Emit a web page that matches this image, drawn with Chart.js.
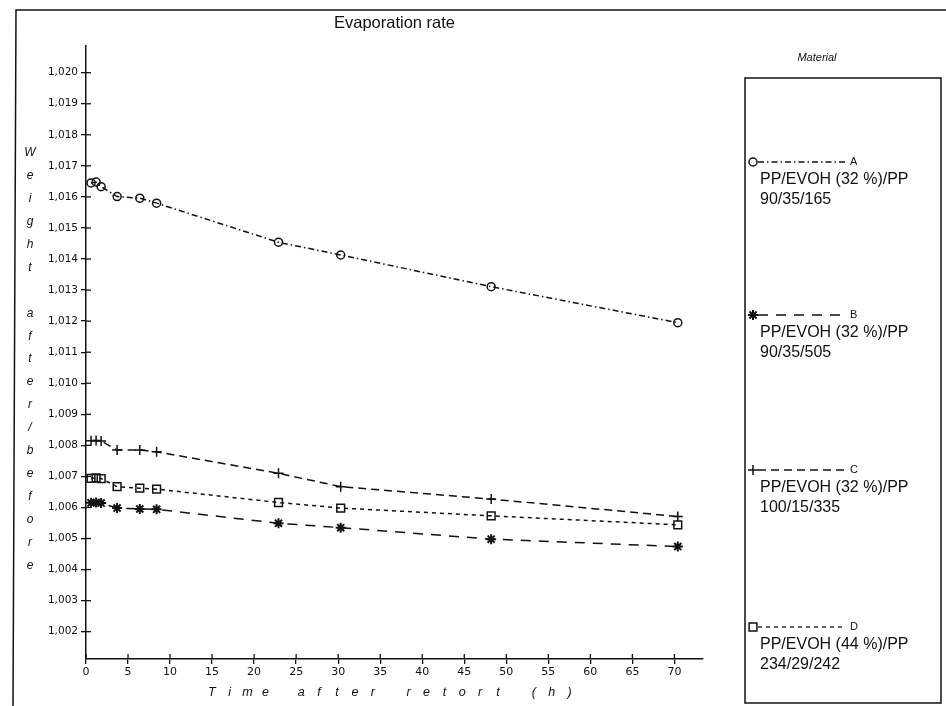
<!DOCTYPE html>
<html><head><meta charset="utf-8">
<script src="https://cdn.jsdelivr.net/npm/chart.js@4.4.0/dist/chart.umd.min.js"></script>
<style>html,body{margin:0;padding:0;background:#fff;}#wrap{width:946px;height:706px;position:relative;}</style>
</head><body><div id="wrap"><canvas id="c"></canvas></div>
<script>
// ---- data ----
const timeHours = [0.6, 1.2, 1.8, 3.7, 6.4, 8.4, 22.9, 30.3, 48.2, 70.4];
const seriesA = [1.01645, 1.01648, 1.01633, 1.01601, 1.01596, 1.01580, 1.01454, 1.01413, 1.01311, 1.01195];
const seriesB = [1.00615, 1.00616, 1.00614, 1.00598, 1.00595, 1.00594, 1.00549, 1.00535, 1.00498, 1.00474];
const seriesC = [1.00815, 1.00816, 1.00814, 1.00785, 1.00785, 1.00779, 1.00710, 1.00667, 1.00627, 1.00571];
const seriesD = [1.00694, 1.00695, 1.00693, 1.00667, 1.00662, 1.00659, 1.00616, 1.00598, 1.00573, 1.00544];
const seriesLetters = ['A', 'B', 'C', 'D'];
const materialLine1 = ['PP/EVOH (32 %)/PP', 'PP/EVOH (32 %)/PP', 'PP/EVOH (32 %)/PP', 'PP/EVOH (44 %)/PP'];
const materialLine2 = ['90/35/165', '90/35/505', '100/15/335', '234/29/242'];
const yTickValues = [1.002, 1.003, 1.004, 1.005, 1.006, 1.007, 1.008, 1.009, 1.010, 1.011, 1.012, 1.013, 1.014, 1.015, 1.016, 1.017, 1.018, 1.019, 1.020];
const xTickValues = [0, 5, 10, 15, 20, 25, 30, 35, 40, 45, 50, 55, 60, 65, 70];
const chartTitle = 'Evaporation rate';
const xTitle = 'Time after retort (h)';
const yTitle = 'Weight after/before';
const legendTitle = 'Material';

// ---- styles ----
const INK = '#111';
const styles = [
  {pointStyle: 'circle', radius: 4, dash: [6, 3, 1.5, 3]},
  {pointStyle: 'star', radius: 5, dash: [10, 8]},
  {pointStyle: 'cross', radius: 5, dash: [8, 5]},
  {pointStyle: 'rect', radius: 5.5, dash: [4, 4]}
];
const allSeries = [seriesA, seriesB, seriesC, seriesD];

const datasets = allSeries.map((s, i) => ({
  label: seriesLetters[i],
  data: timeHours.map((t, k) => ({x: t, y: s[k]})),
  borderColor: INK,
  backgroundColor: 'rgba(0,0,0,0)',
  borderWidth: 1.5,
  borderDash: styles[i].dash,
  pointStyle: styles[i].pointStyle,
  pointRadius: styles[i].radius,
  pointBorderWidth: i === 1 ? 2 : 1.5,
  pointBorderColor: INK,
  pointBackgroundColor: 'rgba(0,0,0,0)',
  tension: 0,
  fill: false
}));

const decorPlugin = {
  id: 'decor',
  afterDraw(chart) {
    const ctx = chart.ctx;
    const ca = chart.chartArea;
    const xs = chart.scales.x, ys = chart.scales.y;
    ctx.save();
    ctx.strokeStyle = INK;
    ctx.fillStyle = INK;
    // inner halves of the crossing tick marks
    ctx.lineWidth = 1.3;
    ys.ticks.forEach(t => {
      const py = ys.getPixelForValue(t.value);
      ctx.beginPath(); ctx.moveTo(ca.left, py); ctx.lineTo(ca.left + 5, py); ctx.stroke();
    });
    xs.ticks.forEach(t => {
      const px = xs.getPixelForValue(t.value);
      ctx.beginPath(); ctx.moveTo(px, ca.bottom); ctx.lineTo(px, ca.bottom - 5); ctx.stroke();
    });
    // outer frame
    ctx.lineWidth = 1.5;
    ctx.beginPath(); ctx.moveTo(946, 10); ctx.lineTo(16, 10); ctx.lineTo(13, 706); ctx.stroke();
    // y title: stacked italic letters
    ctx.font = 'italic 12px "Liberation Sans", Arial, sans-serif';
    ctx.textAlign = 'center'; ctx.textBaseline = 'middle';
    yTitle.split('').forEach((ch, k) => { if (ch !== ' ') ctx.fillText(ch, 30, 153 + k * 22.9); });
    // x title: spaced italic letters
    const slots = [];
    xTitle.split(' ').forEach((w, wi) => { if (wi > 0) slots.push(' '); w.split('').forEach(c => slots.push(c)); });
    ctx.font = 'italic 12.5px "Liberation Sans", Arial, sans-serif';
    slots.forEach((ch, k) => { if (ch !== ' ') ctx.fillText(ch, 211.7 + k * 17.9, 693); });
    // legend box
    ctx.lineWidth = 1.5;
    ctx.strokeRect(745, 78, 196, 625);
    ctx.font = 'italic 11px "Liberation Sans", Arial, sans-serif';
    ctx.fillText(legendTitle, 817, 58);
    const rowY = [162, 315, 470, 627];
    chart.data.datasets.forEach((ds, i) => {
      const y = rowY[i];
      ctx.lineWidth = 1.3;
      ctx.setLineDash(styles[i].dash);
      ctx.beginPath(); ctx.moveTo(758, y); ctx.lineTo(845, y); ctx.stroke();
      ctx.setLineDash([]);
      ctx.fillStyle = '#fff';
      ctx.lineWidth = i === 1 ? 2 : 1.5;
      Chart.helpers.drawPoint(ctx, {pointStyle: styles[i].pointStyle, radius: styles[i].radius, borderWidth: i === 1 ? 2 : 1.5, rotation: 0}, 753, y);
      ctx.fillStyle = INK;
      ctx.font = '11px "Liberation Sans", Arial, sans-serif';
      ctx.textAlign = 'left';
      ctx.fillText(seriesLetters[i], 850, y);
      ctx.font = '16px "Liberation Sans", Arial, sans-serif';
      ctx.fillText(materialLine1[i], 760, y + 18);
      ctx.fillText(materialLine2[i], 760, y + 38);
      ctx.textAlign = 'center';
    });
    ctx.restore();
  }
};

new Chart(document.getElementById('c'), {
  type: 'line',
  data: {datasets},
  options: {
    responsive: true,
    maintainAspectRatio: false,
    animation: false,
    layout: {padding: {left: 0, right: 243, top: 0, bottom: 0}},
    plugins: {
      legend: {display: false},
      tooltip: {enabled: false},
      title: {
        display: true, text: chartTitle, color: INK, fullSize: false,
        font: {family: '"Liberation Sans", Arial, sans-serif', size: 16.5, weight: 'normal', lineHeight: 1.2},
        padding: {top: 14, bottom: 12.2}
      }
    },
    scales: {
      x: {
        type: 'linear', min: 0, max: 73.4,
        afterBuildTicks: s => { s.ticks = xTickValues.map(v => ({value: v})); },
        afterFit: s => { s.height = 47; },
        grid: {display: true, drawOnChartArea: false, drawTicks: true, tickLength: 5, color: INK, lineWidth: 1.3},
        border: {display: true, color: INK, width: 1.5},
        ticks: {color: INK, padding: 2, maxRotation: 0, autoSkip: false,
          font: {family: '"DejaVu Sans", sans-serif', size: 11},
          callback: v => String(v)}
      },
      y: {
        type: 'linear', min: 1.00112, max: 1.02086,
        afterBuildTicks: s => { s.ticks = yTickValues.map(v => ({value: v})); },
        afterFit: s => { s.width = 86; },
        grid: {display: true, drawOnChartArea: false, drawTicks: true, tickLength: 5, color: INK, lineWidth: 1.3},
        border: {display: true, color: INK, width: 1.5},
        ticks: {color: INK, padding: 3, autoSkip: false,
          font: {family: '"DejaVu Sans", sans-serif', size: 10.5},
          callback: v => Number(v).toFixed(3).replace('.', ',')}
      }
    }
  },
  plugins: [decorPlugin]
});
</script></body></html>
